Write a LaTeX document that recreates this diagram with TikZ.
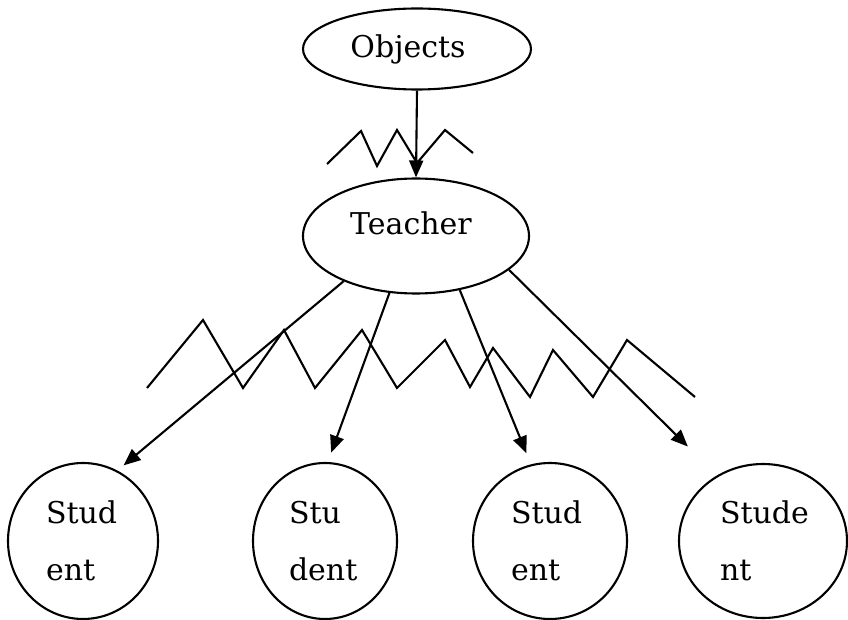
\documentclass[tikz,border=0pt]{standalone}
\usepackage{fontspec}
\setmainfont{DejaVu Serif}
\usetikzlibrary{arrows.meta, shapes.geometric}

\begin{document}
\begin{tikzpicture}[x=1pt, y=-1pt, line width=2.1pt,
		font=\fontsize{30}{57}\selectfont,
		oval/.style={draw, ellipse, inner sep=0pt},
		pupil/.style={oval, align=left, minimum width=150pt, minimum height=156pt},
		arr/.style={-{Triangle[length=17pt,width=14pt]}}]
		\useasboundingbox (0,0) rectangle (848,620);
		%draw top nodes
		\node[oval, minimum width=228pt, minimum height=81pt,
			label={[xshift=-9pt]center:Objects}] (objects) at (417,49) {};
		\node[oval, minimum width=226pt, minimum height=115pt,
			label={[xshift=-5pt,yshift=13pt]center:Teacher}] (teacher) at (416,236) {};
		%draw student nodes
		\node[pupil, text width=74pt] (s1) at (83,541) {Stud\\ent};
		\node[pupil, text width=72pt, minimum width=144pt] (s2) at (325,541) {Stu\\dent};
		\node[pupil, text width=78pt, minimum width=154pt] (s3) at (550,541) {Stud\\ent};
		\node[pupil, text width=86pt, minimum width=168pt, minimum height=154pt] (s4) at (763,541) {Stude\\nt};
		%draw arrows
		\draw[arr] (objects.south) -- (teacher.north);
		\draw[arr, shorten >=8pt] (teacher.212) -- (s1.64);
		\draw[arr, shorten >=10pt] (teacher.245) -- (s2.88);
		\draw[arr, shorten >=12pt] (teacher.309) -- (s3.104);
		\draw[arr, shorten >=41pt] (teacher.340) -- (s4.125);
		%draw noise lines
		\draw (327,164) -- (361,131) -- (377,166) -- (397,130) -- (417,163) -- (445,130) -- (473,153);
		\draw (147,388) -- (203,320) -- (243,388) -- (284,330) -- (315,388) -- (362,330) -- (397,388)
			-- (445,340) -- (470,387) -- (493,348) -- (530,397) -- (553,350) -- (593,397) -- (627,340) -- (695,397);
\end{tikzpicture}
\end{document}
